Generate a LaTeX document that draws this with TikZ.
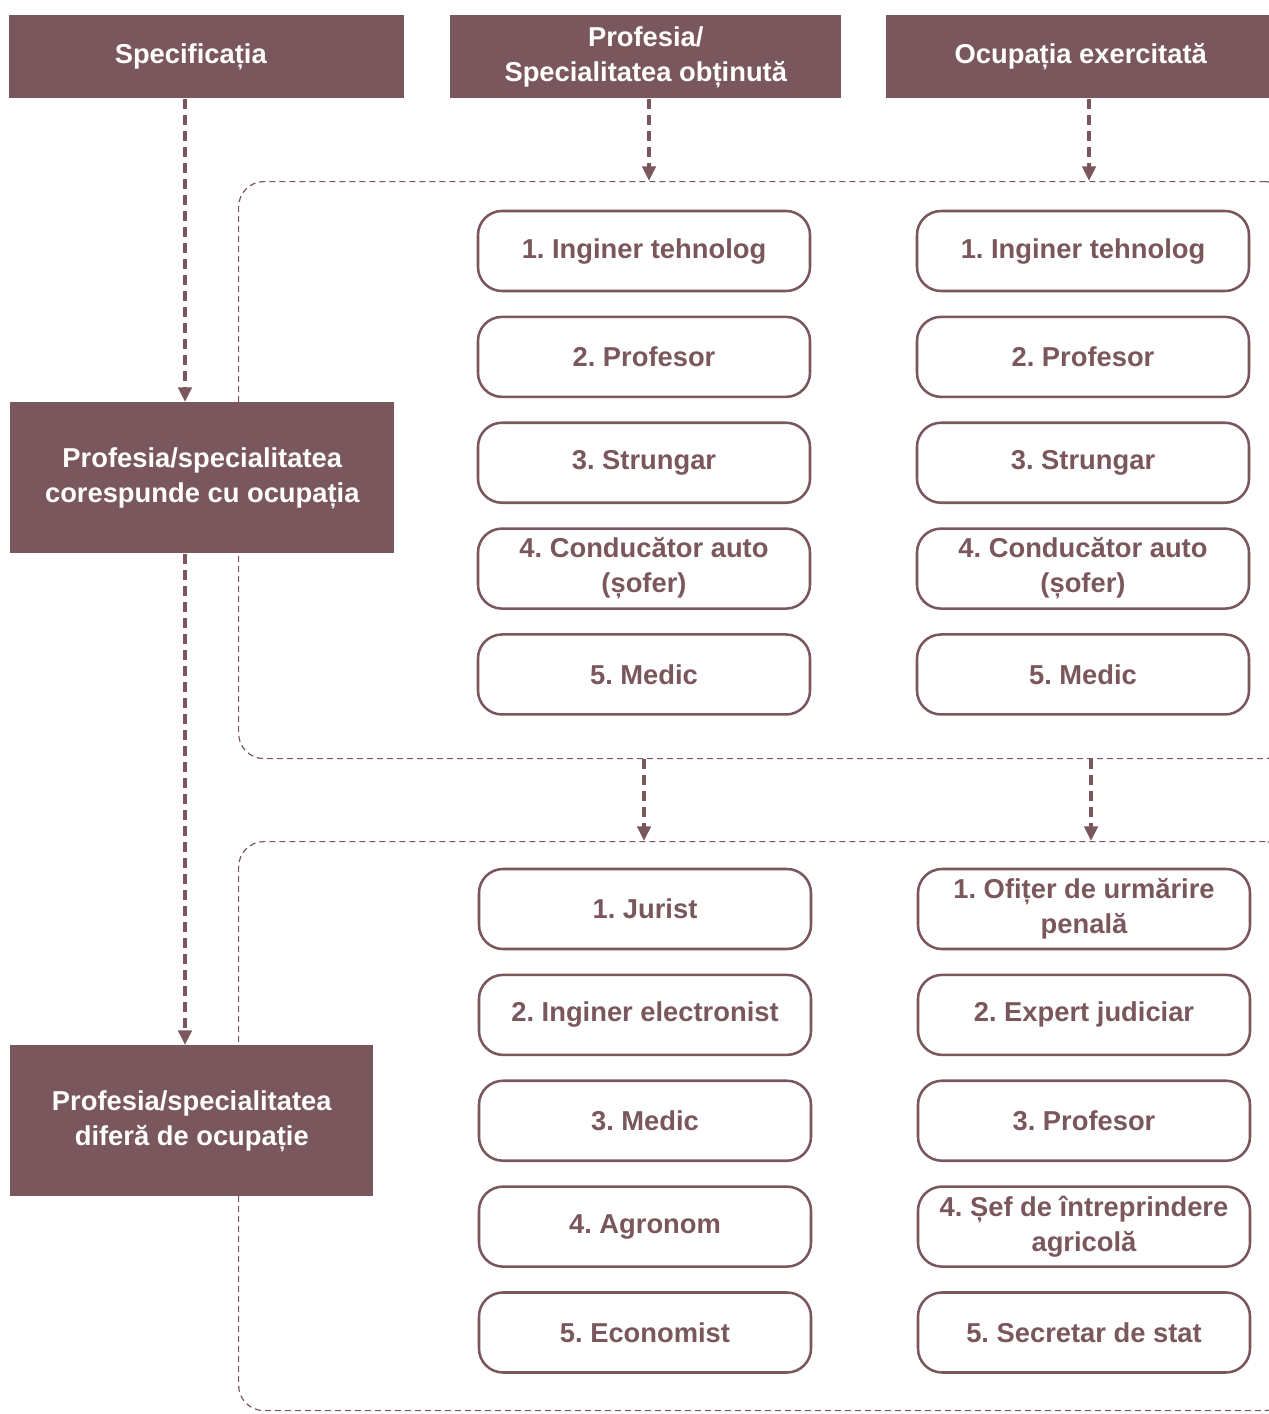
\documentclass[tikz,border=0pt]{standalone}
\usepackage{fontspec}
\setmainfont{Liberation Sans}
\frenchspacing
\usetikzlibrary{arrows.meta,positioning}
\definecolor{plum}{HTML}{7A575C}
\tikzset{
  hdr/.style={fill=plum, text=white, minimum height=62.25pt, inner sep=0pt, align=center, anchor=north west},
  sidebox/.style={fill=plum, text=white, minimum height=113.25pt, inner sep=0pt, align=center, anchor=north west},
  itembox/.style={draw=plum, line width=1.9pt, rounded corners=18pt, minimum width=249pt, minimum height=60pt, inner sep=0pt, text=plum, align=center},
  flowarrow/.style={draw=plum, line width=2.6pt, dash pattern=on 7.5pt off 4.5pt, -{Triangle[length=11pt,width=10pt]}},
  groupframe/.style={draw=plum, line width=0.9pt, dash pattern=on 4.5pt off 3pt, rounded corners=19pt, inner sep=0pt, anchor=north west},
}
\begin{document}
\begin{tikzpicture}[x=0.75pt, y=-0.75pt, font=\bfseries\fontsize{20.5}{26.25}\selectfont, node distance=17.5pt]
\useasboundingbox (0,0) rectangle (1269,1414);
% column headers
\node[hdr, minimum width=296.25pt] (h1) at (9,15) {Specificația\hspace{24pt}};
\node[hdr, minimum width=293.25pt] (h2) at (450,15) {Profesia/\\Specialitatea obținută};
\node[hdr, minimum width=291.75pt] (h3) at (886,15) {Ocupația exercitată};
% left boxes
\node[sidebox, minimum width=288pt] (s1) at (10,402) {Profesia/specialitatea\\corespunde cu ocupația};
\node[sidebox, minimum width=272.25pt] (s2) at (10,1045) {Profesia/specialitatea\\diferă de ocupație};
% dashed groups
\node[groupframe, minimum width=789pt, minimum height=432.75pt] (gA) at (238,181) {};
\node[groupframe, minimum width=789pt, minimum height=426.75pt] (gB) at (238,841) {};
% first group
\node[itembox] (a1) at (644,251) {1. Inginer tehnolog};
\node[itembox, below=of a1] (a2) {2. Profesor};
\node[itembox, below=of a2] (a3) {3. Strungar};
\node[itembox, below=of a3] (a4) {4. Conducător auto\\(șofer)};
\node[itembox, below=of a4] (a5) {5. Medic};
\node[itembox] (b1) at (1083,251) {1. Inginer tehnolog};
\node[itembox, below=of b1] (b2) {2. Profesor};
\node[itembox, below=of b2] (b3) {3. Strungar};
\node[itembox, below=of b3] (b4) {4. Conducător auto\\(șofer)};
\node[itembox, below=of b4] (b5) {5. Medic};
% second group
\node[itembox] (c1) at (645,909) {1. Jurist};
\node[itembox, below=of c1] (c2) {2. Inginer electronist};
\node[itembox, below=of c2] (c3) {3. Medic};
\node[itembox, below=of c3] (c4) {4. Agronom};
\node[itembox, below=of c4] (c5) {5. Economist};
\node[itembox] (d1) at (1084,909) {1. Ofițer de urmărire\\penală};
\node[itembox, below=of d1] (d2) {2. Expert judiciar};
\node[itembox, below=of d2] (d3) {3. Profesor};
\node[itembox, below=of d3] (d4) {4. Șef de întreprindere\\agricolă};
\node[itembox, below=of d4] (d5) {5. Secretar de stat};
% arrows
\coordinate (spine) at (185,0);
\coordinate (colA) at (649,0);
\coordinate (colB) at (1089,0);
\coordinate (colC) at (644,0);
\coordinate (colD) at (1091,0);
\draw[flowarrow] (h1.south -| spine) -- (s1.north -| spine);
\draw[flowarrow] (s1.south -| spine) -- (s2.north -| spine);
\draw[flowarrow] (h2.south -| colA) -- (gA.north -| colA);
\draw[flowarrow] (h3.south -| colB) -- (gA.north -| colB);
\draw[flowarrow] (gA.south -| colC) -- (gB.north -| colC);
\draw[flowarrow] (gA.south -| colD) -- (gB.north -| colD);
\end{tikzpicture}
\end{document}
